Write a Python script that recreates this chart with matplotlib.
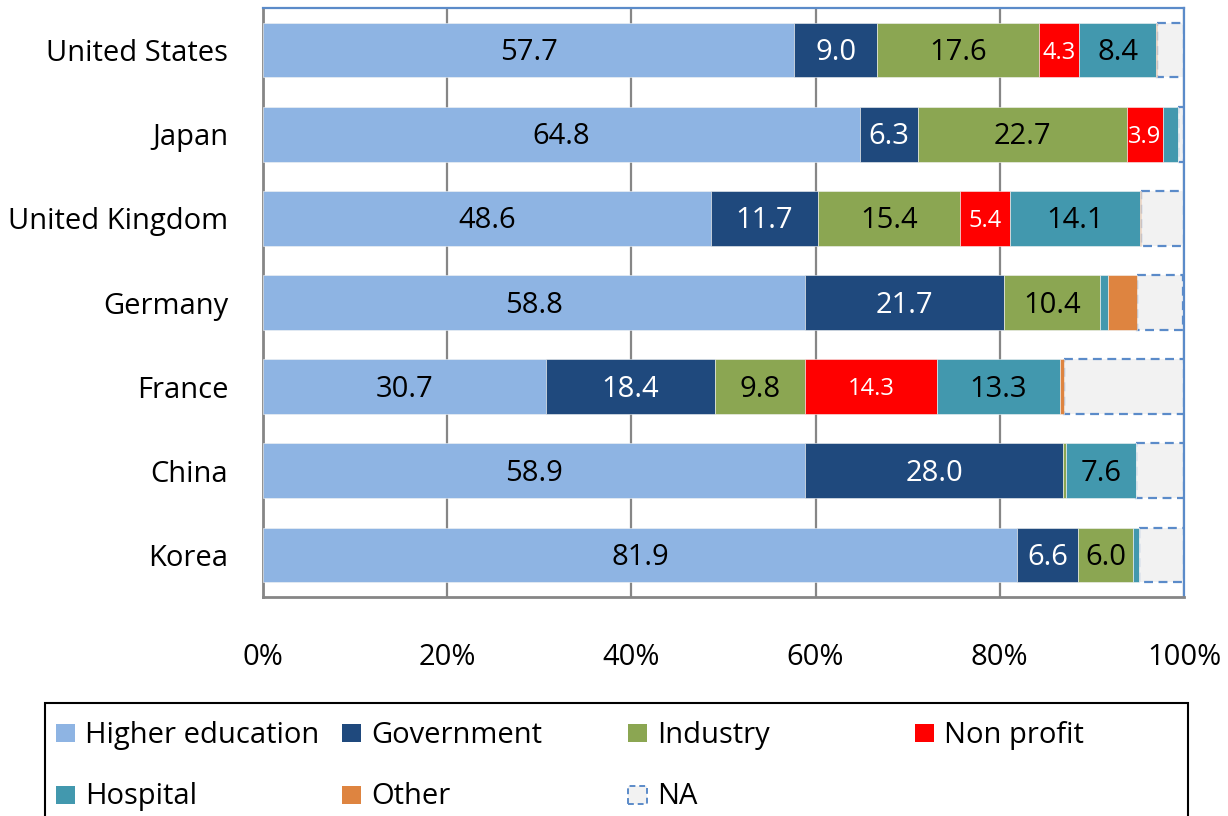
import matplotlib
matplotlib.use("Agg")
import matplotlib.pyplot as plt
from matplotlib.patches import Rectangle
import numpy as np

plt.rcParams['font.family'] = ['Open Sans', 'DejaVu Sans']

countries = ["United States", "Japan", "United Kingdom", "Germany", "France", "China", "Korea"]
series_names = ["Higher education", "Government", "Industry", "Non profit", "Hospital", "Other", "NA"]

higher_education = [57.7, 64.8, 48.6, 58.8, 30.7, 58.9, 81.9]
government = [9.0, 6.3, 11.7, 21.7, 18.4, 28.0, 6.6]
industry = [17.6, 22.7, 15.4, 10.4, 9.8, 0.3, 6.0]
non_profit = [4.3, 3.9, 5.4, 0.0, 14.3, 0.0, 0.0]
hospital = [8.4, 1.6, 14.1, 0.8, 13.3, 7.6, 0.6]
other = [0.1, 0.0, 0.1, 3.2, 0.5, 0.0, 0.0]
not_available = [2.9, 0.7, 4.7, 5.0, 13.0, 5.2, 4.9]

tick_values = [0, 20, 40, 60, 80, 100]
tick_labels = ["0%", "20%", "40%", "60%", "80%", "100%"]

colors = ["#8EB4E3", "#1F497D", "#8BA652", "#FF0000", "#4298AE", "#DE8440", "#F2F2F2"]
label_colors = ["black", "white", "black", "white", "black", None, None]
FS = 21
label_sizes = [FS, FS, FS, 17, FS, None, None]
min_labeled = 3.5

fig = plt.figure(figsize=(12.28, 8.16), dpi=100)
W, H = 1228, 816
ax = fig.add_axes([263 / W, 1 - 597 / H, (1184 - 263) / W, (597 - 8) / H])

y = np.arange(len(countries))
bar_h = 0.65
data = [higher_education, government, industry, non_profit, hospital, other, not_available]
left = np.zeros(len(countries))
for i, (name, vals) in enumerate(zip(series_names, data)):
    vals = np.array(vals)
    if name == "NA":
        ax.barh(y, vals, left=left, height=bar_h, color=colors[i],
                edgecolor="#5B8BC9", linewidth=1.6, linestyle=(0, (4, 2.5)), zorder=2)
    else:
        ax.barh(y, vals, left=left, height=bar_h, color=colors[i],
                edgecolor="#F4F4F4", linewidth=0.4, zorder=3)
        if label_colors[i] is not None:
            for yy, l, v in zip(y, left, vals):
                if v >= min_labeled:
                    ax.text(l + v / 2, yy + 0.03, f"{v:.1f}", ha="center", va="center",
                            color=label_colors[i], fontsize=label_sizes[i], zorder=4)
    left += vals

ax.set_xlim(0, 100)
ax.set_ylim(len(countries) - 0.5, -0.5)
ax.set_yticks(y)
ax.set_yticklabels(countries, fontsize=FS)
ax.set_xticks(tick_values)
ax.set_xticklabels(tick_labels, fontsize=FS)
ax.tick_params(axis="both", length=0)
ax.tick_params(axis="y", pad=25)
ax.tick_params(axis="x", pad=33)

ax.set_axisbelow(True)
ax.xaxis.grid(True, color="#868686", linewidth=1.6)
for side in ["left", "bottom"]:
    ax.spines[side].set_color("#868686")
    ax.spines[side].set_linewidth(2)
for side in ["top", "right"]:
    ax.spines[side].set_color("#5B8BC9")
    ax.spines[side].set_linewidth(1.6)

# Legend box laid out on a fixed column grid
fig.patches.append(Rectangle((45 / W, -0.02), (1188 - 45) / W, 1 - 703 / H + 0.02,
                             transform=fig.transFigure, facecolor="white",
                             edgecolor="black", linewidth=1.5))
col_x = [56, 342, 628, 915]
row_y = [733, 795]
row_baseline = [743, 804]
for i, name in enumerate(series_names):
    r, c = divmod(i, 4)
    x0, yc = col_x[c], row_y[r]
    if name == "NA":
        patch = Rectangle((x0 / W, 1 - (yc + 9) / H), 19 / W, 18 / H, transform=fig.transFigure,
                          facecolor=colors[i], edgecolor="#5B8BC9", linewidth=1.4,
                          linestyle=(0, (3, 2)))
    else:
        patch = Rectangle((x0 / W, 1 - (yc + 9) / H), 19 / W, 18 / H, transform=fig.transFigure,
                          facecolor=colors[i], edgecolor="none")
    fig.patches.append(patch)
    fig.text((x0 + 29) / W, 1 - row_baseline[r] / H, name, ha="left", va="baseline", fontsize=FS)

fig.savefig("out.png", dpi=100)
